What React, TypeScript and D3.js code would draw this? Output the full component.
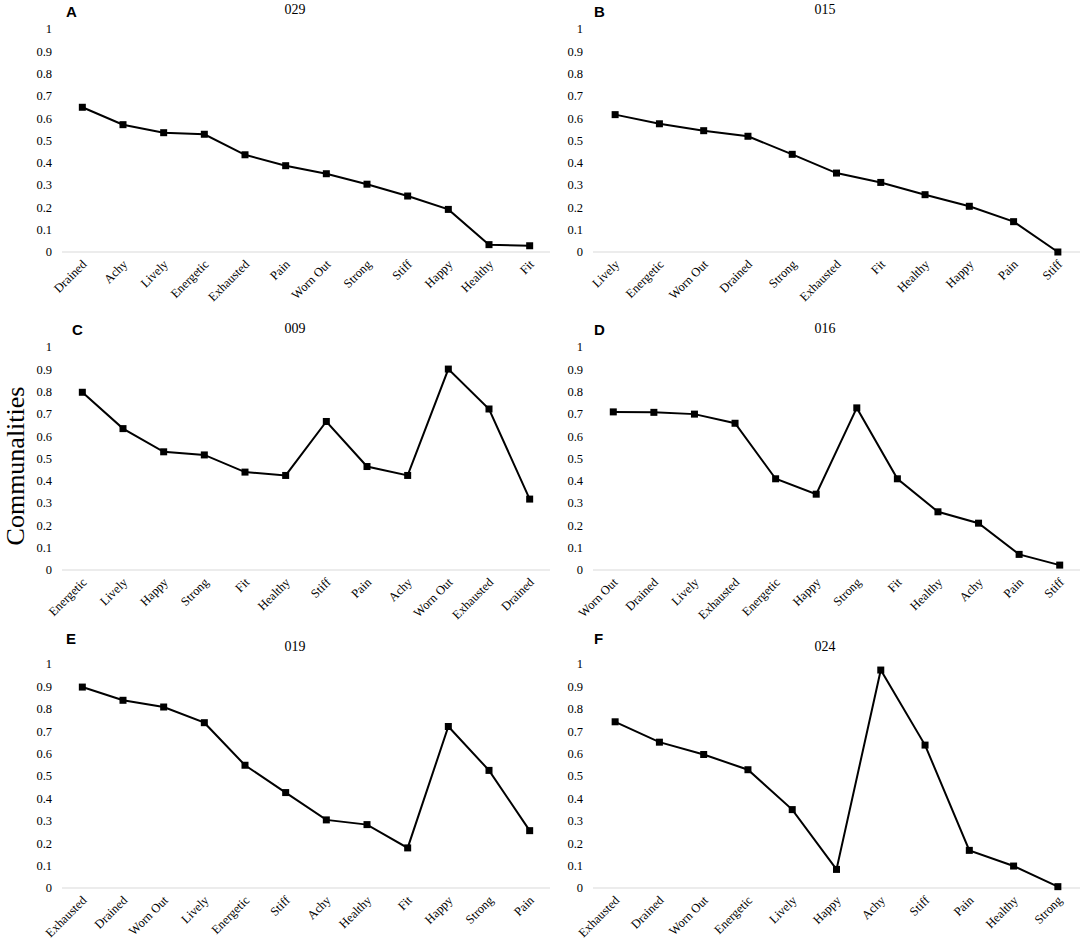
import * as d3 from "d3";
import { useEffect, useRef } from "react";

// panel data
const catsA = ["Drained", "Achy", "Lively", "Energetic", "Exhausted", "Pain", "Worn Out", "Strong", "Stiff", "Happy", "Healthy", "Fit"];
const valsA = [0.649, 0.571, 0.535, 0.528, 0.436, 0.387, 0.351, 0.304, 0.251, 0.191, 0.033, 0.028];

const catsB = ["Lively", "Energetic", "Worn Out", "Drained", "Strong", "Exhausted", "Fit", "Healthy", "Happy", "Pain", "Stiff"];
const valsB = [0.616, 0.575, 0.544, 0.519, 0.438, 0.354, 0.312, 0.257, 0.205, 0.136, 0.0];

const catsC = ["Energetic", "Lively", "Happy", "Strong", "Fit", "Healthy", "Stiff", "Pain", "Achy", "Worn Out", "Exhausted", "Drained"];
const valsC = [0.797, 0.634, 0.53, 0.516, 0.439, 0.424, 0.666, 0.464, 0.424, 0.901, 0.722, 0.318];

const catsD = ["Worn Out", "Drained", "Lively", "Exhausted", "Energetic", "Happy", "Strong", "Fit", "Healthy", "Achy", "Pain", "Stiff"];
const valsD = [0.709, 0.707, 0.699, 0.658, 0.409, 0.34, 0.727, 0.409, 0.261, 0.21, 0.07, 0.022];

const catsE = ["Exhausted", "Drained", "Worn Out", "Lively", "Energetic", "Stiff", "Achy", "Healthy", "Fit", "Happy", "Strong", "Pain"];
const valsE = [0.897, 0.838, 0.808, 0.738, 0.548, 0.426, 0.304, 0.283, 0.179, 0.721, 0.525, 0.256];

const catsF = ["Exhausted", "Drained", "Worn Out", "Energetic", "Lively", "Happy", "Achy", "Stiff", "Pain", "Healthy", "Strong"];
const valsF = [0.742, 0.651, 0.596, 0.528, 0.35, 0.083, 0.973, 0.638, 0.168, 0.098, 0.006];

const letters = ["A", "B", "C", "D", "E", "F"];
const titles = ["029", "015", "009", "016", "019", "024"];
const yTicks = [0, 0.1, 0.2, 0.3, 0.4, 0.5, 0.6, 0.7, 0.8, 0.9, 1];

const panels = [
  { cats: catsA, vals: valsA },
  { cats: catsB, vals: valsB },
  { cats: catsC, vals: valsC },
  { cats: catsD, vals: valsD },
  { cats: catsE, vals: valsE },
  { cats: catsF, vals: valsF },
];

const W = 1084;
const H = 943;
const serif = "'Liberation Serif', 'Times New Roman', serif";

// layout per column / row
const cols = [
  { x0: 62, x1: 550, title: 295, letter: 66 },
  { x0: 593, x1: 1080, title: 825, letter: 594 },
];
const rows = [
  { zero: 252, one: 29, title: 14, letter: 17 },
  { zero: 570, one: 347, title: 333, letter: 335 },
  { zero: 888, one: 664, title: 651, letter: 644 },
];

export default function App() {
  const ref = useRef<SVGSVGElement>(null);

  useEffect(() => {
    if (!ref.current) return;
    const svg = d3.select(ref.current);
    svg.selectAll("*").remove();

    svg.append("rect").attr("width", W).attr("height", H).attr("fill", "#fff");

    panels.forEach((p, i) => {
      const col = cols[i % 2];
      const row = rows[Math.floor(i / 2)];

      const x = d3.scaleBand<string>().domain(p.cats).range([col.x0, col.x1]);
      const y = d3.scaleLinear().domain([0, 1]).range([row.zero, row.one]);
      const cx = (c: string) => (x(c) ?? 0) + x.bandwidth() / 2;

      const g = svg.append("g");

      // y tick labels
      g.selectAll("text.ytick")
        .data(yTicks)
        .enter()
        .append("text")
        .attr("class", "ytick")
        .attr("x", col.x0 - 10)
        .attr("y", d => y(d))
        .attr("dy", "0.35em")
        .attr("text-anchor", "end")
        .attr("font-family", serif)
        .attr("font-size", 12.5)
        .attr("fill", "#000")
        .text(d => d3.format("~g")(d));

      // baseline
      g.append("line")
        .attr("x1", col.x0)
        .attr("x2", col.x1)
        .attr("y1", y(0))
        .attr("y2", y(0))
        .attr("stroke", "#d9d9d9")
        .attr("stroke-width", 1.2);

      // category labels
      g.selectAll("text.xcat")
        .data(p.cats)
        .enter()
        .append("text")
        .attr("class", "xcat")
        .attr("transform", d => `translate(${cx(d) + 2},${row.zero + 10}) rotate(-45)`)
        .attr("dy", "0.35em")
        .attr("text-anchor", "end")
        .attr("font-family", serif)
        .attr("font-size", 12.5)
        .attr("fill", "#000")
        .text(d => d);

      const pts = p.cats.map((c, j) => ({ c, v: p.vals[j] }));

      const line = d3.line<{ c: string; v: number }>()
        .x(d => cx(d.c))
        .y(d => y(d.v));

      g.append("path")
        .datum(pts)
        .attr("fill", "none")
        .attr("stroke", "#000")
        .attr("stroke-width", 2)
        .attr("d", line);

      g.selectAll("rect.mark")
        .data(pts)
        .enter()
        .append("rect")
        .attr("class", "mark")
        .attr("x", d => cx(d.c) - 3.5)
        .attr("y", d => y(d.v) - 3.5)
        .attr("width", 7)
        .attr("height", 7)
        .attr("fill", "#000");

      // title
      g.append("text")
        .attr("x", col.title)
        .attr("y", row.title)
        .attr("text-anchor", "middle")
        .attr("font-family", serif)
        .attr("font-size", 14)
        .attr("fill", "#000")
        .text(titles[i]);

      // panel letter
      g.append("text")
        .attr("x", col.letter + (i === 2 ? 6 : 0))
        .attr("y", row.letter)
        .attr("font-family", "'Liberation Sans', Arial, sans-serif")
        .attr("font-weight", "bold")
        .attr("font-size", 15)
        .attr("fill", "#000")
        .text(letters[i]);
    });

    svg.append("text")
      .attr("transform", `translate(24,466) rotate(-90)`)
      .attr("text-anchor", "middle")
      .attr("font-family", serif)
      .attr("font-size", 26)
      .attr("fill", "#000")
      .text("Communalities");
  }, []);

  return (
    <div style={{ position: "absolute", left: 0, top: 0 }}>
      <svg ref={ref} width={W} height={H} style={{ display: "block" }} />
    </div>
  );
}
